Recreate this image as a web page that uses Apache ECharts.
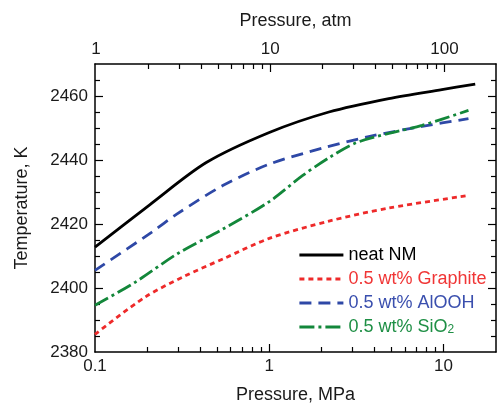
<!DOCTYPE html>
<html>
<head>
<meta charset="utf-8">
<script src="https://cdn.jsdelivr.net/npm/echarts@6/dist/echarts.min.js"></script>
<style>html,body{margin:0;padding:0;background:#fff}#c{width:497px;height:409px}</style>
</head>
<body>
<div id="c"></div>
<script>
// Series data: [pressure (MPa), temperature (K)]
var neatNM = [[0.1,2412.8],[0.206,2426],[0.435,2439.2],[1.0,2448.6],[2.2,2455],[4.85,2459.2],[9.78,2462],[15.2,2463.7]];
var graphite = [[0.1,2385.5],[0.193,2397.1],[0.327,2403.7],[0.553,2409.3],[1.0,2415.5],[2.2,2420.9],[4.85,2425],[13.9,2428.9]];
var alooh = [[0.1,2405.5],[0.211,2417.4],[0.293,2423],[0.541,2432],[1.0,2438.7],[2.02,2443.7],[3.72,2447.3],[7.52,2450.5],[13.9,2452.9]];
var sio2 = [[0.1,2394.6],[0.169,2401.7],[0.299,2410.8],[0.541,2418.4],[1.0,2427],[1.55,2435.1],[2.2,2440.7],[3.12,2445.3],[4.85,2448.3],[7.52,2450.8],[13.9,2455.5]];

var seriesNames = ['neat NM','0.5 wt% Graphite','0.5 wt% AlOOH','0.5 wt% SiO2'];

// Axis tick labels
var mpaLabels = [0.1, 1, 10];
var mpaMinor = [0.2,0.3,0.4,0.5,0.6,0.7,0.8,0.9,2,3,4,5,6,7,8,9];
var atmLabels = [1, 10, 100];
var atmMinor = [2,3,4,5,6,7,8,9,20,30,40,50,60,70,80,90];
var tempLabels = [2380, 2400, 2420, 2440, 2460];
var tempMinor = [2385,2390,2395,2405,2410,2415,2425,2430,2435,2445,2450,2455,2465];

var MPA_PER_ATM = 0.101325;
var xMin = 0.1, xMax = 20, yMin = 2380, yMax = 2470;

var FONT = 'Liberation Sans, Arial, sans-serif';
var lineCol = '#000';
var numFmt = function(v){return String(+(+v).toPrecision(4));};

function xAx(opts){
  return Object.assign({
    type:'log', logBase:10, gridIndex:0, min:xMin, max:xMax,
    axisLine:{show:false}, splitLine:{show:false}, minorTick:{show:false}, minorSplitLine:{show:false},
    axisLabel:{show:false}, axisTick:{show:false}
  }, opts);
}
function yAx(opts){
  return Object.assign({
    type:'value', gridIndex:0, min:yMin, max:yMax,
    axisLine:{show:false}, splitLine:{show:false}, minorTick:{show:false},
    axisLabel:{show:false}, axisTick:{show:false}
  }, opts);
}

var chart = echarts.init(document.getElementById('c'), null, {renderer:'canvas'});
var colors = ['#000000','#ee2a2a','#2e48a6','#13873a'];
var textColors = ['#000000','#f03535','#3a4fae','#1e8f45'];
var dashes = ['solid',[5,4],[12,7],[15,4,3,4]];

chart.setOption({
  animation:false,
  backgroundColor:'#fff',
  textStyle:{fontFamily:FONT},
  grid:{left:95, right:1, top:64, bottom:51, containLabel:false},
  xAxis:[
    xAx({position:'bottom',
      axisLine:{show:true, lineStyle:{color:lineCol, width:1.5}},
      axisTick:{show:true, inside:true, length:8, lineStyle:{color:lineCol,width:1.2}, customValues:[1,10]},
      axisLabel:{show:true, customValues:mpaLabels, margin:6, fontSize:17, color:'#1a1a1a', fontFamily:FONT, formatter:numFmt},
      name:'Pressure, MPa', nameLocation:'middle', nameGap:34,
      nameTextStyle:{fontSize:18, color:'#1a1a1a', fontFamily:FONT}
    }),
    xAx({position:'bottom',
      axisTick:{show:true, inside:true, length:5, lineStyle:{color:lineCol,width:1.2}, customValues:mpaMinor}
    }),
    xAx({position:'top', min:xMin/MPA_PER_ATM, max:xMax/MPA_PER_ATM,
      axisLine:{show:true, lineStyle:{color:lineCol, width:1.5}},
      axisTick:{show:true, inside:true, length:8, lineStyle:{color:lineCol,width:1.2}, customValues:[10,100]},
      axisLabel:{show:true, customValues:atmLabels, margin:6, fontSize:17, color:'#1a1a1a', fontFamily:FONT, formatter:numFmt},
      name:'Pressure, atm', nameLocation:'middle', nameGap:34,
      nameTextStyle:{fontSize:18, color:'#1a1a1a', fontFamily:FONT}
    }),
    xAx({position:'top', min:xMin/MPA_PER_ATM, max:xMax/MPA_PER_ATM,
      axisTick:{show:true, inside:true, length:5, lineStyle:{color:lineCol,width:1.2}, customValues:atmMinor}
    })
  ],
  yAxis:[
    yAx({position:'left',
      axisLine:{show:true, lineStyle:{color:lineCol, width:1.5}},
      axisTick:{show:true, inside:true, length:8, lineStyle:{color:lineCol,width:1.2}, customValues:[2400,2420,2440,2460]},
      axisLabel:{show:true, customValues:tempLabels, margin:7, fontSize:17, color:'#1a1a1a', fontFamily:FONT, formatter:numFmt},
      name:'Temperature, K', nameLocation:'middle', nameGap:64, nameRotate:90,
      nameTextStyle:{fontSize:18, color:'#1a1a1a', fontFamily:FONT}
    }),
    yAx({position:'left',
      axisTick:{show:true, inside:true, length:5, lineStyle:{color:lineCol,width:1.2}, customValues:tempMinor}
    }),
    yAx({position:'right',
      axisLine:{show:true, lineStyle:{color:lineCol, width:1.5}},
      axisTick:{show:true, inside:true, length:8, lineStyle:{color:lineCol,width:1.2}, customValues:[2400,2420,2440,2460]}
    }),
    yAx({position:'right',
      axisTick:{show:true, inside:true, length:5, lineStyle:{color:lineCol,width:1.2}, customValues:tempMinor}
    })
  ],
  legend:{
    orient:'vertical', left:298, top:246, itemWidth:44, itemHeight:14, itemGap:6,
    padding:0,
    data: seriesNames.map(function(n,i){
      return {name:n, textStyle:{color:textColors[i]},
        itemStyle:{opacity:0}, lineStyle:{color:colors[i], width:2.8, type:dashes[i]}};
    }),
    textStyle:{fontSize:18, lineHeight:18, fontFamily:FONT,
      rich:{sub:{fontSize:12, lineHeight:4, verticalAlign:'bottom'}}},
    formatter:function(n){
      if(n.slice(-4)==='SiO2'){ return n.slice(0,-1)+'{sub|2}'; }
      return n;
    }
  },
  series:seriesNames.map(function(n,i){
    return {name:n, type:'line', data:[neatNM,graphite,alooh,sio2][i], xAxisIndex:0, yAxisIndex:0,
      smooth:0.3, symbol:'none', showSymbol:false,
      color:colors[i], lineStyle:{width:2.8, color:colors[i], type:dashes[i]}};
  })
});
</script>
</body>
</html>
